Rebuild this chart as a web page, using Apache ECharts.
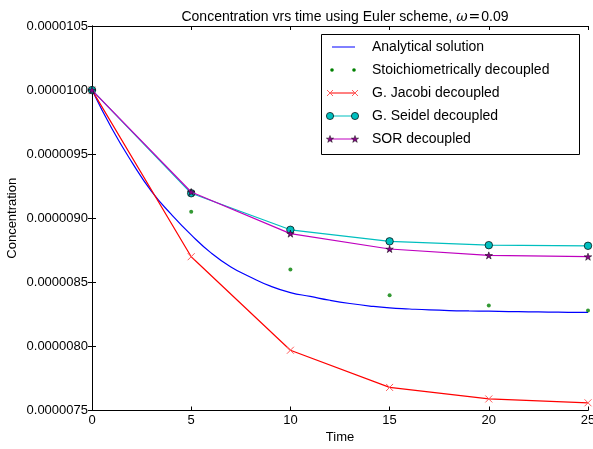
<!DOCTYPE html>
<html>
<head>
<meta charset="utf-8">
<script src="https://cdn.jsdelivr.net/npm/echarts@6/dist/echarts.min.js"></script>
<style>
  html, body { margin: 0; padding: 0; background: #fff; }
  #chart { width: 593px; height: 449px; }
</style>
</head>
<body>
<div id="chart"></div>
<script>
// Concentrations are stored in units of 1e-6 (micro); axis labels print full decimals.
const analyticalTime = [0, 1, 2, 3, 4, 5, 6, 7, 8, 9, 10, 11, 12, 13, 14, 15, 16, 17, 18, 19, 20, 21, 22, 23, 24, 25];
const analyticalConc = [10.00, 9.70, 9.44, 9.21, 9.03, 8.87, 8.73, 8.62, 8.54, 8.47, 8.42, 8.39, 8.36, 8.335, 8.315, 8.30,
                        8.292, 8.285, 8.28, 8.277, 8.275, 8.272, 8.27, 8.268, 8.266, 8.265];

const stepTime = [0, 5, 10, 15, 20, 25];
const stoichConc = [10.00, 9.05, 8.60, 8.40, 8.32, 8.28];
const jacobiConc = [10.00, 8.70, 7.97, 7.68, 7.59, 7.56];
const seidelConc = [10.00, 9.195, 8.91, 8.82, 8.79, 8.785];
const sorConc    = [10.00, 9.205, 8.88, 8.76, 8.71, 8.70];

const seriesNames = ['Analytical solution', 'Stoichiometrically decoupled', 'G. Jacobi decoupled',
                     'G. Seidel decoupled', 'SOR decoupled'];

const xTicks = [0, 5, 10, 15, 20, 25];
const yTicks = [7.5, 8.0, 8.5, 9.0, 9.5, 10.0, 10.5];

const FONT = '"Liberation Sans", Arial, sans-serif';
const C_BLUE = '#0000ff', C_GREEN = '#008000', C_RED = '#ff0000', C_CYAN = '#00bfbf', C_MAG = '#bf00bf';

const STAR = 'path://M0,-1L0.2245,-0.309L0.951,-0.309L0.363,0.118L0.588,0.809L0,0.382L-0.588,0.809L-0.363,0.118L-0.951,-0.309L-0.2245,-0.309Z';
const CROSS = 'path://M0,0L10,10M10,0L0,10';

function pairs(xs, ys) { return xs.map((x, i) => [x, ys[i]]); }
function fmtConc(v) { return (v * 1e-6).toFixed(7); }

const xMin = xTicks[0], xMax = xTicks[xTicks.length - 1], xStep = xTicks[1] - xTicks[0];
const yMin = yTicks[0], yMax = yTicks[yTicks.length - 1], yStep = 0.5;

const gridLeft = 92, gridTop = 26, gridRight = 5, gridBottom = 38.5;

// ---- legend box drawn with graphic elements ----
function starPoints(cx, cy, r) {
  const pts = [];
  for (let i = 0; i < 10; i++) {
    const a = -Math.PI / 2 + i * Math.PI / 5;
    const rr = i % 2 === 0 ? r : r * 0.382;
    pts.push([cx + rr * Math.cos(a), cy + rr * Math.sin(a)]);
  }
  return pts;
}
const legX0 = 321, legY0 = 34, legW = 258, legH = 120;
const rowY = [47, 70, 93, 116, 139];
const symA = 330, symB = 355, textX = 372;
const legendGraphics = [
  { type: 'rect', shape: { x: legX0 + 0.5, y: legY0 + 0.5, width: legW, height: legH },
    style: { fill: '#fff', stroke: '#000', lineWidth: 1 }, z: 100 }
];
rowY.forEach((y, i) => {
  legendGraphics.push({ type: 'text', x: textX, y: y, z: 101,
    style: { text: seriesNames[i], fill: '#000', font: '14px ' + FONT, verticalAlign: 'middle', align: 'left' } });
});
// analytical: plain line
legendGraphics.push({ type: 'line', z: 101, shape: { x1: symA + 2, y1: rowY[0], x2: symB, y2: rowY[0] },
  style: { stroke: C_BLUE, lineWidth: 1 } });
// stoichiometric: two dots
[symA + 2, symB - 1].forEach(x => legendGraphics.push({ type: 'circle', z: 101,
  shape: { cx: x, cy: rowY[1], r: 1.8 }, style: { fill: C_GREEN } }));
// jacobi: line with crosses
legendGraphics.push({ type: 'line', z: 101, shape: { x1: symA, y1: rowY[2], x2: symB, y2: rowY[2] },
  style: { stroke: C_RED, lineWidth: 1 } });
[symA, symB].forEach(x => {
  const y = rowY[2];
  legendGraphics.push({ type: 'line', z: 102, shape: { x1: x - 3, y1: y - 3, x2: x + 3, y2: y + 3 },
    style: { stroke: '#ff5a5a', lineWidth: 1 } });
  legendGraphics.push({ type: 'line', z: 102, shape: { x1: x + 3, y1: y - 3, x2: x - 3, y2: y + 3 },
    style: { stroke: '#ff5a5a', lineWidth: 1 } });
});
// seidel: line with circles
legendGraphics.push({ type: 'line', z: 101, shape: { x1: symA, y1: rowY[3], x2: symB, y2: rowY[3] },
  style: { stroke: C_CYAN, lineWidth: 1 } });
[symA, symB].forEach(x => legendGraphics.push({ type: 'circle', z: 102,
  shape: { cx: x, cy: rowY[3], r: 3.6 }, style: { fill: C_CYAN, stroke: '#000', lineWidth: 0.7 } }));
// sor: line with stars
legendGraphics.push({ type: 'line', z: 101, shape: { x1: symA, y1: rowY[4], x2: symB, y2: rowY[4] },
  style: { stroke: C_MAG, lineWidth: 1 } });
[symA, symB].forEach(x => legendGraphics.push({ type: 'polygon', z: 102,
  shape: { points: starPoints(x, rowY[4] + 0.3, 3.8) }, style: { fill: '#8a008a', stroke: '#000', lineWidth: 0.5 } }));

const chart = echarts.init(document.getElementById('chart'), null, { renderer: 'canvas' });

const baseAxisLabel = { color: '#000', fontSize: 13, fontFamily: FONT };
const tickStyle = { show: true, inside: true, length: 4, lineStyle: { color: '#000', width: 1 } };
const lineStyleAxis = { show: true, lineStyle: { color: '#000', width: 1 } };

chart.setOption({
  animation: false,
  backgroundColor: '#fff',
  title: {
    text: 'Concentration vrs time using Euler scheme, {w|ω}{e|=}0.09',
    left: gridLeft + (593 - gridLeft - gridRight) / 2, textAlign: 'center', top: 5,
    textStyle: {
      color: '#000', fontSize: 14, fontWeight: 'normal', fontFamily: FONT,
      rich: {
        w: { fontSize: 14, fontStyle: 'italic', fontFamily: '"DejaVu Serif", serif', color: '#000' },
        e: { fontSize: 14, fontFamily: '"DejaVu Sans", sans-serif', color: '#000', padding: [0, 1, 0, 1] }
      }
    }
  },
  grid: { left: gridLeft, top: gridTop, right: gridRight, bottom: gridBottom,
          containLabel: false, outerBoundsMode: 'none' },
  xAxis: [
    { type: 'value', min: xMin, max: xMax, interval: xStep, position: 'bottom',
      name: 'Time', nameLocation: 'middle', nameGap: 20, nameMoveOverlap: false,
      nameTextStyle: { color: '#000', fontSize: 13, fontFamily: FONT },
      axisLine: lineStyleAxis, axisTick: tickStyle, splitLine: { show: false },
      axisLabel: Object.assign({ margin: 3 }, baseAxisLabel) },
    { type: 'value', min: xMin, max: xMax, interval: xStep, position: 'top',
      axisLine: lineStyleAxis, axisTick: tickStyle, splitLine: { show: false }, axisLabel: { show: false } }
  ],
  yAxis: [
    { type: 'value', min: yMin, max: yMax, interval: yStep, position: 'left',
      name: 'Concentration', nameLocation: 'middle', nameGap: 73, nameRotate: 90, nameMoveOverlap: false,
      nameTextStyle: { color: '#000', fontSize: 13, fontFamily: FONT },
      axisLine: lineStyleAxis, axisTick: tickStyle, splitLine: { show: false },
      axisLabel: Object.assign({ margin: 4, formatter: fmtConc }, baseAxisLabel) },
    { type: 'value', min: yMin, max: yMax, interval: yStep, position: 'right',
      axisLine: lineStyleAxis, axisTick: tickStyle, splitLine: { show: false }, axisLabel: { show: false } }
  ],
  graphic: legendGraphics,
  series: [
    { name: seriesNames[0], type: 'line', data: pairs(analyticalTime, analyticalConc), smooth: 0.5,
      showSymbol: false, symbol: 'none', lineStyle: { color: C_BLUE, width: 1.2 }, z: 2 },
    { name: seriesNames[1], type: 'scatter', data: pairs(stepTime, stoichConc), symbol: 'circle', symbolSize: 4,
      itemStyle: { color: C_GREEN }, z: 3 },
    { name: seriesNames[2], type: 'line', data: pairs(stepTime, jacobiConc), symbol: CROSS, symbolSize: 7,
      showAllSymbol: true, lineStyle: { color: C_RED, width: 1.2 },
      itemStyle: { color: 'rgba(0,0,0,0)', borderColor: '#ff5a5a', borderWidth: 1 }, z: 4 },
    { name: seriesNames[3], type: 'line', data: pairs(stepTime, seidelConc), symbol: 'circle', symbolSize: 7.5,
      showAllSymbol: true, lineStyle: { color: C_CYAN, width: 1.2 },
      itemStyle: { color: C_CYAN, borderColor: '#000', borderWidth: 0.7 }, z: 5 },
    { name: seriesNames[4], type: 'line', data: pairs(stepTime, sorConc), symbol: STAR, symbolSize: 7.5,
      symbolKeepAspect: true, showAllSymbol: true, lineStyle: { color: C_MAG, width: 1.2 },
      itemStyle: { color: '#8a008a', borderColor: '#000', borderWidth: 0.5 }, z: 6 }
  ]
});
</script>
</body>
</html>
